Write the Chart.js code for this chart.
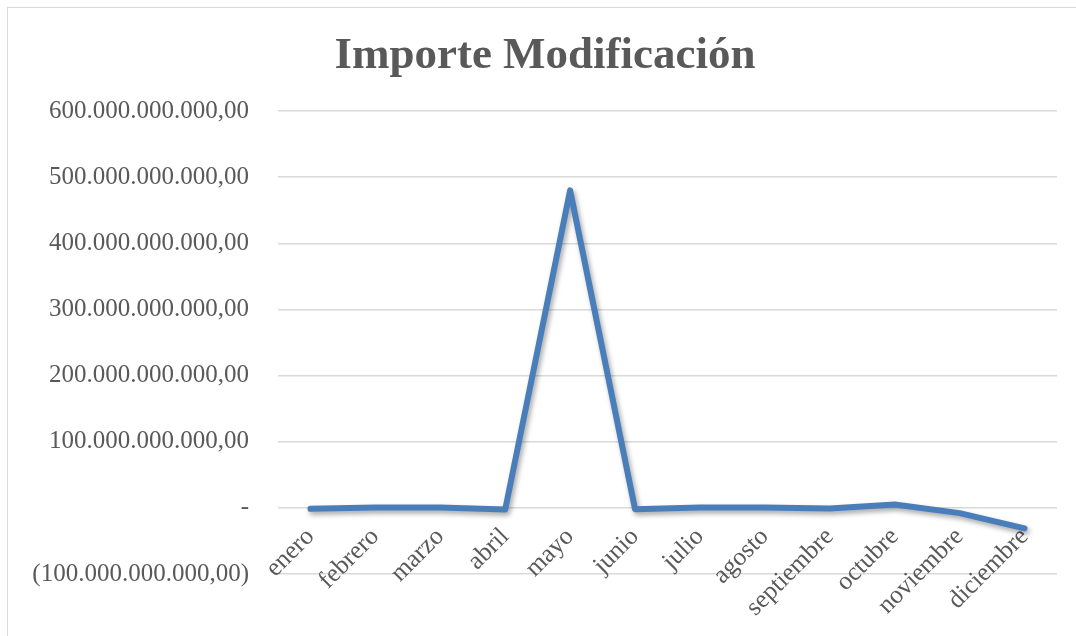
<!DOCTYPE html>
<html lang="es">
<head>
    <meta charset="UTF-8">
    <title>Importe Modificación</title>
    <script src="https://cdn.jsdelivr.net/npm/chart.js@4.4.0/dist/chart.umd.min.js"></script>
    <style>
        body { margin: 0; background: #fff; }
        .wrap { position: relative; width: 1076px; height: 636px; }
        .frame { position: absolute; left: 7px; top: 7px; right: -5px; bottom: -5px; border: 1.5px solid #d9d9d9; }
        canvas { position: absolute; left: 0; top: 0; }
    </style>
</head>
<body>
<div class="wrap">
    <div class="frame"></div>
    <canvas id="importeChart" width="1076" height="636"></canvas>
</div>

<script>
// data (euros)
const months = ["enero", "febrero", "marzo", "abril", "mayo", "junio",
    "julio", "agosto", "septiembre", "octubre", "noviembre", "diciembre"];
const importe = [-1.5e9, 0.5e9, 0.5e9, -2.5e9, 480e9, -2e9,
    0.5e9, 0.5e9, -1e9, 5e9, -8e9, -31e9];
const yMin = -100e9;
const yMax = 600e9;
const yStep = 100e9;

const grey = "#595959";

// Excel accounting style: 600.000.000.000,00 / - / (100.000.000.000,00)
function formatImporte(v) {
    if (v === 0) return "-";
    const s = Math.abs(v).toFixed(0).replace(/\B(?=(\d{3})+(?!\d))/g, ".") + ",00";
    return v < 0 ? "(" + s + ")" : s;
}

const lineShadow = {
    id: "lineShadow",
    beforeDatasetsDraw(chart) {
        const c = chart.ctx;
        c.save();
        c.shadowColor = "rgba(0,0,0,0.35)";
        c.shadowBlur = 5;
        c.shadowOffsetX = 2;
        c.shadowOffsetY = 3;
    },
    afterDatasetsDraw(chart) {
        chart.ctx.restore();
    }
};

new Chart(document.getElementById("importeChart"), {
    type: "line",
    data: {
        labels: months,
        datasets: [{
            data: importe,
            borderColor: "#4a7ebb",
            borderWidth: 6,
            borderCapStyle: "round",
            borderJoinStyle: "round",
            pointRadius: 0,
            tension: 0,
            fill: false
        }]
    },
    options: {
        responsive: false,
        animation: false,
        layout: { padding: { left: 33, right: 19, top: 0, bottom: 62 } },
        plugins: {
            legend: { display: false },
            tooltip: { enabled: false },
            title: {
                display: true,
                text: "Importe Modificación",
                color: grey,
                font: { family: "Liberation Serif", size: 45, weight: "bold", lineHeight: 1.2 },
                padding: { top: 29, bottom: 28 }
            }
        },
        scales: {
            x: {
                position: { y: 0 },   // category labels sit under the zero line, like Excel
                offset: true,
                grid: { display: false },
                border: { display: false },
                ticks: {
                    color: grey,
                    font: { family: "Liberation Serif", size: 25.5 },
                    minRotation: 45,
                    maxRotation: 45,
                    autoSkip: false,
                    padding: 6
                },
                afterFit(scale) {
                    scale.paddingLeft = 0;
                    scale.paddingRight = 0;
                    scale.paddingTop = 0;
                    scale.paddingBottom = 0;
                }
            },
            y: {
                min: yMin,
                max: yMax,
                grid: { color: "#d9d9d9", lineWidth: 1.5, drawTicks: false },
                border: { display: false },
                ticks: {
                    stepSize: yStep,
                    color: grey,
                    font: { family: "Liberation Serif", size: 25 },
                    padding: 29,
                    callback: (v) => formatImporte(v)
                },
                afterFit(scale) { scale.width = 245; }
            }
        }
    },
    plugins: [lineShadow]
});
</script>
</body>
</html>
